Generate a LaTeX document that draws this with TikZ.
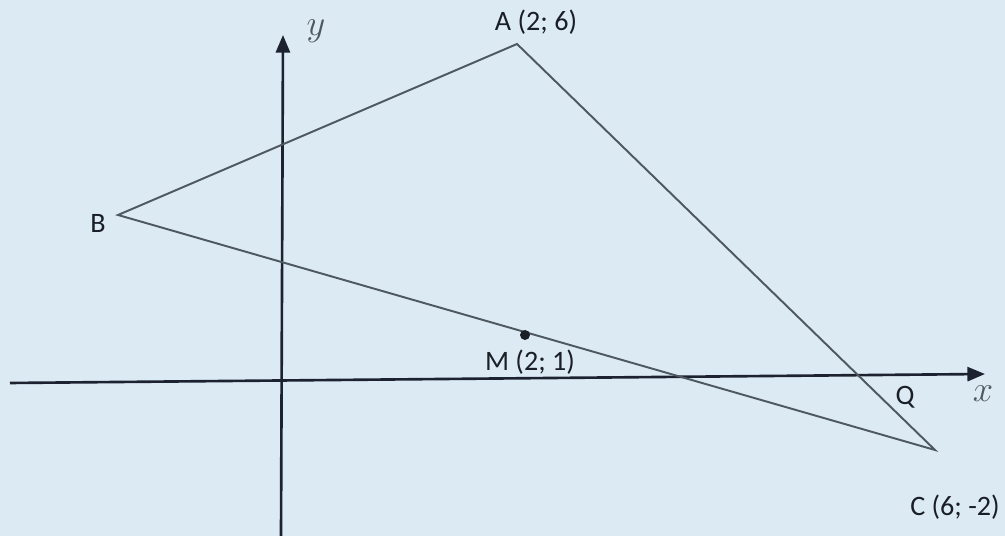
\documentclass[tikz,border=0pt]{standalone}
\usepackage{fontspec}
\setmainfont{Carlito}
\usetikzlibrary{arrows.meta}
\definecolor{paper}{HTML}{DCEAF4}
\definecolor{tri}{HTML}{4E585F}
\definecolor{axis}{HTML}{1C2230}
\definecolor{ink}{HTML}{1A1E26}
\tikzset{
  lbl/.style={text=ink, font=\fontsize{16}{19}\selectfont, inner sep=0pt},
  var/.style={text=tri, font=\fontsize{20}{24}\selectfont, inner sep=0pt},
  side/.style={draw=tri, line width=1.1pt},
  axisline/.style={draw=axis, line width=1.5pt, -{Triangle[length=10pt,width=8pt]}},
}
\begin{document}
\begin{tikzpicture}[x=0.02cm,y=0.02cm]
  \fill[paper] (0,0) rectangle (1005,536);
  \useasboundingbox (0,0) rectangle (1005,536);
  % axes
  \coordinate (xs) at (10,153);
  \coordinate (xe) at (985,162);
  \coordinate (ys) at (281,0);
  \coordinate (ye) at (283,501);
  \draw[axisline] (xs) -- (xe);
  \draw[axisline] (ys) -- (ye);
  % points
  \coordinate (A) at (517,492);
  \coordinate (B) at (118,321);
  \coordinate (C) at (935,86);
  \coordinate (M) at (525,201);
  \draw[side] (B) -- (A) -- (C) -- cycle;
  \fill[ink] (M) circle (5);
  % labels
  \node[lbl] (la) at (536,514) {A (2; 6)};
  \node[lbl] (lb) at (98,313) {B};
  \node[lbl] (lm) at (530,174) {M (2; 1)};
  \node[lbl] (lq) at (905,139) {Q};
  \node[lbl] (lc) at (955,29) {C (6; -2)};
  \node[var] (ly) at (316,505) {$y$};
  \node[var] (lx) at (983,142) {$x$};
\end{tikzpicture}
\end{document}
